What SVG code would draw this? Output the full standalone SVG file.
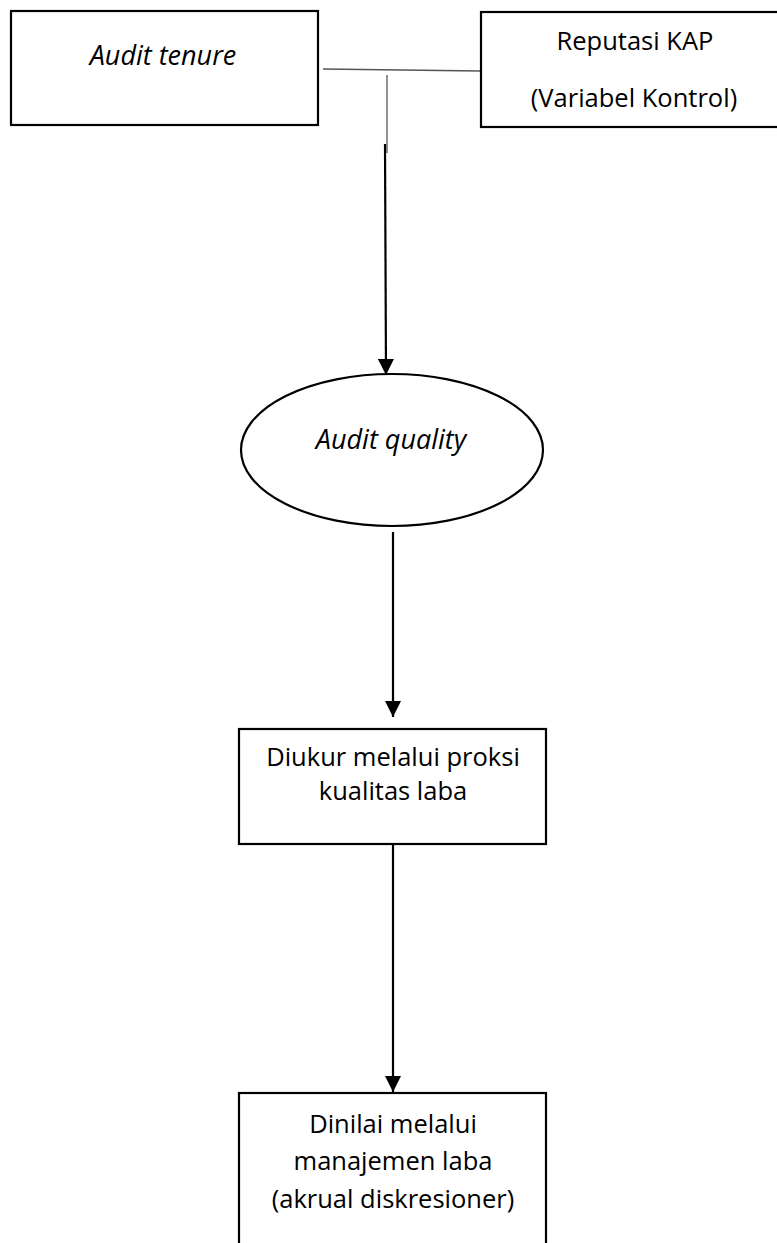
<svg xmlns="http://www.w3.org/2000/svg" width="777" height="1243" viewBox="0 0 777 1243">
<defs>
<style>
.box{fill:#fff;stroke:#000;stroke-width:2.2}
.t{font-family:"Open Sans","Liberation Sans",sans-serif;font-size:25.5px;fill:#000;text-anchor:middle}
.i{font-style:italic;font-size:27px}
.c{fill:none;stroke:#000;stroke-width:2.2}
.thin{fill:none;stroke:#555;stroke-width:1.3}
</style>
<marker id="ah" viewBox="0 0 16 16" refX="16" refY="8" markerWidth="16" markerHeight="16" markerUnits="userSpaceOnUse" orient="auto">
<path d="M0,0 L16,8 L0,16 Z" fill="#000"/>
</marker>
</defs>
<rect width="777" height="1243" fill="#fff"/>
<g id="connectors">
<line class="thin" x1="323" y1="69" x2="480" y2="71"/>
<line class="thin" x1="387" y1="75" x2="387" y2="153"/>
<line class="c" x1="385" y1="144" x2="386" y2="375" marker-end="url(#ah)"/>
<line class="c" x1="393" y1="532" x2="393" y2="717" marker-end="url(#ah)"/>
<line class="c" x1="393" y1="844" x2="393" y2="1092" marker-end="url(#ah)"/>
</g>
<g id="audit-tenure">
<rect class="box" x="11" y="11" width="307" height="114"/>
<text class="t i" x="163" y="65">Audit tenure</text>
</g>
<g id="reputasi-kap">
<rect class="box" x="481" y="12" width="310" height="115"/>
<text class="t" x="635" y="50">Reputasi KAP</text>
<text class="t" x="634" y="107">(Variabel Kontrol)</text>
</g>
<g id="audit-quality">
<ellipse class="box" cx="392" cy="450" rx="151" ry="76"/>
<text class="t i" x="391" y="449">Audit quality</text>
</g>
<g id="kualitas-laba">
<rect class="box" x="239" y="729" width="307" height="115"/>
<text class="t" x="393" y="766">Diukur melalui proksi</text>
<text class="t" x="393" y="800">kualitas laba</text>
</g>
<g id="manajemen-laba">
<rect class="box" x="239" y="1093" width="307" height="170"/>
<text class="t" x="393" y="1133">Dinilai melalui</text>
<text class="t" x="393" y="1170">manajemen laba</text>
<text class="t" x="393" y="1208">(akrual diskresioner)</text>
</g>
</svg>
